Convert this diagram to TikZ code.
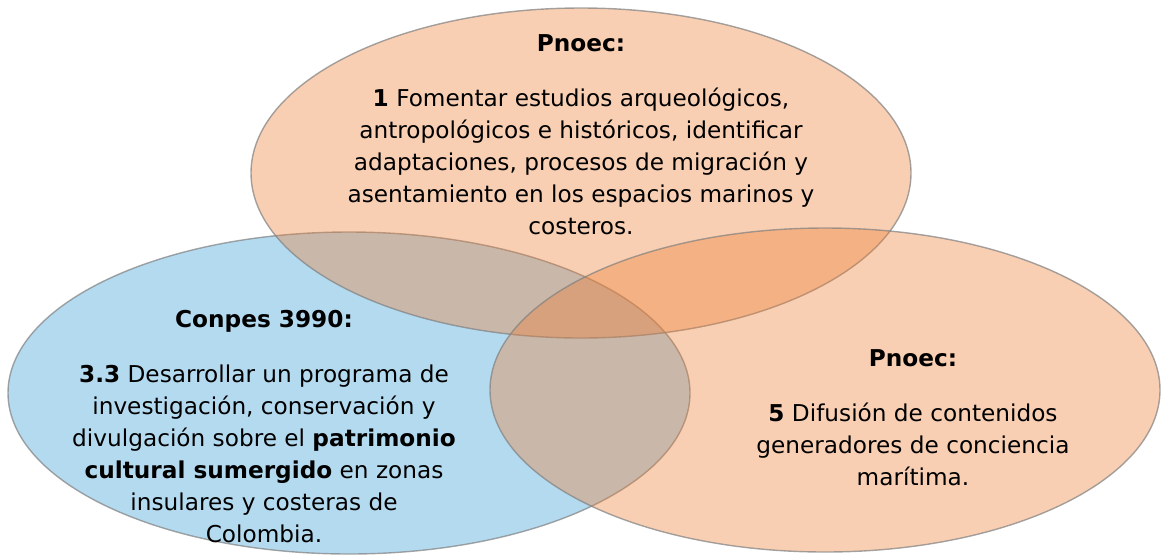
\documentclass[tikz,border=0pt]{standalone}
\usepackage{fontspec}
\setmainfont{DejaVu Sans}
\usepackage{tikz}
\usetikzlibrary{positioning,shapes.geometric}
\definecolor{pnoecorange}{RGB}{237,125,49}
\definecolor{conpesblue}{RGB}{52,155,214}

\begin{document}
\begin{tikzpicture}[
    x=0.025cm, y=-0.025cm,
    font=\fontsize{16.5}{22.8}\selectfont,
    node distance=0.814cm,
    set/.style={
		ellipse,
		inner sep=0pt,
		draw=gray,
		draw opacity=0.7,
		line width=1pt,
		fill opacity=0.37
	},
	settext/.style={
		align=center,
		inner sep=0pt
	}
  ]
  \useasboundingbox (0,0) rectangle (1162,555);

  % the three sets
  \node [set, fill=conpesblue, minimum width=682*0.025cm, minimum height=322*0.025cm] (conpes) at (349,393) {};
  \node [set, fill=pnoecorange, minimum width=660*0.025cm, minimum height=330*0.025cm] (pnoec1) at (581,173) {};
  \node [set, fill=pnoecorange, minimum width=670*0.025cm, minimum height=324*0.025cm] (pnoec5) at (825,390) {};

  % texts
  \node [settext, anchor=base] (pnoec1title) at (581,51) {\textbf{Pnoec:}};
  \node [settext, below=of pnoec1title.base] (pnoec1text)
 {%
  \strut\textbf{1} Fomentar estudios arqueológicos,\\
  antropológicos e históricos, identificar\\
  adaptaciones, procesos de migración y\\
  asentamiento en los espacios marinos y\\
  costeros.
 };

  \node [settext, anchor=base] (conpestitle) at (264,327) {\textbf{Conpes 3990:}};
  \node [settext, below=of conpestitle.base] (conpestext)
 {%
  \strut\textbf{3.3} Desarrollar un programa de\\
  investigación, conservación y\\
  divulgación sobre el \textbf{patrimonio}\\
  \textbf{cultural sumergido} en zonas\\
  insulares y costeras de\\
  Colombia.
 };

  \node [settext, anchor=base] (pnoec5title) at (913,366) {\textbf{Pnoec:}};
  \node [settext, below=of pnoec5title.base] (pnoec5text)
 {%
  \strut\textbf{5} Difusión de contenidos\\
  generadores de conciencia\\
  marítima.
 };

\end{tikzpicture}
\end{document}
